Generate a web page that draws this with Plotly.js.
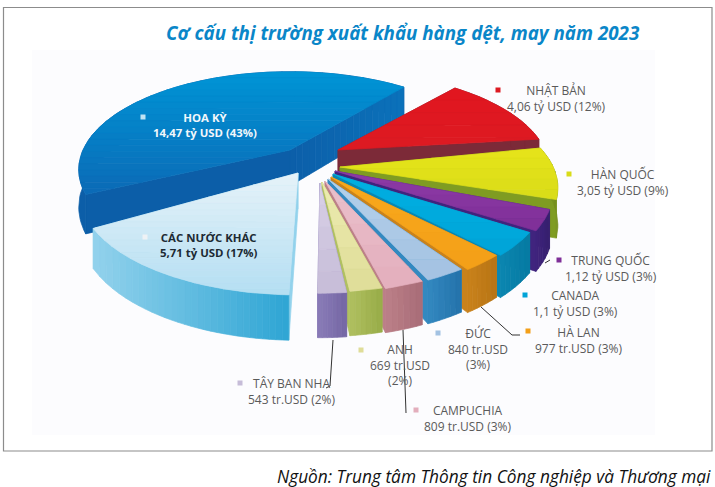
<!DOCTYPE html>
<html><head><meta charset="utf-8">
<script src="https://cdn.plot.ly/plotly-3.0.1.min.js"></script>
<style>html,body{margin:0;padding:0;background:#fff}</style></head>
<body><div id="chart" style="width:715px;height:487px"></div>
<script>
// ---- data (clockwise from the top right)
const names = ["NHẬT BẢN","HÀN QUỐC","TRUNG QUỐC","CANADA","HÀ LAN","ĐỨC","CAMPUCHIA","ANH","TÂY BAN NHA","CÁC NƯỚC KHÁC","HOA KỲ"];
const values = [4.06,3.05,1.12,1.1,0.977,0.84,0.809,0.669,0.543,5.71,14.47];
const valueText = ["4,06 tỷ USD (12%)","3,05 tỷ USD (9%)","1,12 tỷ USD (3%)","1,1 tỷ USD (3%)","977 tr.USD (3%)","840 tr.USD<br>(3%)","809 tr.USD (3%)","669 tr.USD<br>(2%)","543 tr.USD (2%)","5,71 tỷ USD (17%)","14,47 tỷ USD (43%)"];
const titleText = "Cơ cấu thị trường xuất khẩu hàng dệt, may năm 2023";
const sourceText = "Nguồn: Trung tâm Thông tin Công nghiệp và Thương mại";

// ---- styles, one entry per slice
const topA  = ["#e2161f","#e6e41a","#8d3aa6","#00b0e2","#f9a91c","#b4d0ea","#eac0cc","#ecebb0","#d8d0e6","#e6f2f9","#0095d6"];
const topB  = ["#dc1a22","#d9dc18","#7f2f98","#00a4d8","#f39f18","#a3c2e2","#e3aebc","#dfdd98","#c6bcd8","#b4def2","#0b6ab6"];
const wallA = ["#7c2a38","#7f9c22","#40247e","#0b86b0","#c9821c","#3389c0","#bc8088","#b0c060","#8a7cb8","#93d2ec","#0c5ea8"];
const wallB = ["#7c2a38","#76901e","#36206e","#067aa2","#b87414","#2472aa","#a86c78","#98ac48","#7467a4","#2ea5d4","#0a4f98"];
const cutEnd = ["#7c2a38","#7f9c22","#40247e","#0b86b0","#c9821c","#2f7fb8","#bc8088","#b0c060","#8a7cb8","#93d2ec","#0b72ba"];
const apexX = [338,340,335,333,331,328,325,322,320,298,290];
const apexY = [150,167,171,174,177,179,181,182,183,173,150];
const nudgeA = [0,-6.2,-5.8,-6.2,-5.1,-5.7,-4.7,-4.1,-3.2,-0.8,0];   // view adjustment of each slice's edges, degrees
const nudgeB = [0,-7.8,-5,-3.2,-4.5,-3.9,-2.8,-2.3,-1,-4,0];
const scaleR = [1,1.03,1.03,1.01,0.99,0.97,0.96,0.95,0.95,1.03,1];

const labelX = [556,623,611,575,579,478,468,400,292,209,205];
const labelY = [98,182,268,303,340,349,418,365,391,245,125];
const keyX = [498,569,559,525,528,438,416,361,240,145,143];
const keyY = [90,174,260,295,331,333,410,350,383,237,117];

// ---- projection of a tilted disc with perspective
const R=207, Rv=94, K=0.2, D=36, START=40, GAP=0.6;
function pt(s,deg,r,z){
  const a=deg*Math.PI/180, X=r*Math.sin(a)*scaleR[s], Y=r*Math.cos(a)*scaleR[s], w=1+K*Y;
  return [apexX[s]+R*X/w, apexY[s]-Rv*Y/w+D*z/w];
}
function hex(c){return [1,3,5].map(i=>parseInt(c.substr(i,2),16));}
function mix(a,b,t){const p=hex(a),q=hex(b);return "rgb("+p.map((v,i)=>Math.round(v+(q[i]-v)*t)).join(",")+")";}
function clip(poly,ax,lo,hi){
  function cut(P,inside,val){const o=[];for(let i=0;i<P.length;i++){const A=P[i],B=P[(i+1)%P.length],ia=inside(A),ib=inside(B);
    if(ia)o.push(A);
    if(ia!==ib){const t=(val-A[ax])/(B[ax]-A[ax]);o.push([A[0]+(B[0]-A[0])*t,A[1]+(B[1]-A[1])*t]);}}return o;}
  return cut(cut(poly,p=>p[ax]>=lo,lo),p=>p[ax]<=hi,hi);
}
const traces=[];
function add(poly,color){
  if(poly.length<3)return;
  traces.push({type:"scatter",mode:"lines",x:poly.map(p=>p[0]).concat(poly[0][0]),y:poly.map(p=>p[1]).concat(poly[0][1]),
    fill:"toself",fillcolor:color,line:{color:color,width:0.7},hoverinfo:"skip",showlegend:false});
}
function face(poly,a,b,ax,n){
  const vs=poly.map(p=>p[ax]),lo=Math.min(...vs),hi=Math.max(...vs);
  for(let i=0;i<n;i++){const l=lo+(hi-lo)*i/n,h=lo+(hi-lo)*(i+1)/n;add(clip(poly,ax,l,h),mix(a,b,(i+.5)/n));}
}
const total=values.reduce((a,b)=>a+b,0);
let cum=START;
const spans=values.map((v,i)=>{const a=cum;cum+=v/total*360;return [a+GAP+nudgeA[i],a+v/total*360-GAP+nudgeB[i]];});
// paint from back to front
const order=[10,0,1,2,3,4,5,6,7,8,9];
order.forEach(s=>{
  const [a,b]=spans[s], n=Math.ceil((b-a)/2)+1, arc=[];
  for(let i=0;i<=n;i++)arc.push(a+(b-a)*i/n);
  const quad=t=>[pt(s,t,0,0),pt(s,t,1,0),pt(s,t,1,1),pt(s,t,0,1)];
  const wall=arc.map(t=>pt(s,t,1,0)).concat(arc.slice().reverse().map(t=>pt(s,t,1,1)));
  if(s===10){
    add(quad(a),wallA[s]);
    face(wall,wallA[s],wallB[s],0,24);
    face(quad(b),wallA[s],cutEnd[s],0,18);
  }else{
    add(quad(a),wallA[s]);
    add(quad(b),wallA[s]);
    face(wall,wallA[s],wallB[s],0,s===9?30:6);
  }
  const top=[pt(s,a,0,0)].concat(arc.map(t=>pt(s,t,1,0)));
  face(top,topA[s],topB[s],1,s>=9?20:5);
});

// ---- text
const ann=[];
names.forEach((nm,i)=>{
  const inside=i>=9;
  ann.push({x:labelX[i],y:labelY[i],xref:"x",yref:"y",showarrow:false,align:"center",
    text:(inside?"<b>"+nm+"<br>"+valueText[i]+"</b>":nm+"<br>"+valueText[i]),
    font:{family:"Open Sans",size:inside?11.4:12,color:i===10?"#f2f7fb":(i===9?"#1c2a33":"#5a5a5a")}});
});
ann.push({x:403,y:33,xref:"x",yref:"y",showarrow:false,text:"<b><i>"+titleText+"</i></b>",font:{family:"Open Sans",size:18.8,color:"#0a86c8"}});
ann.push({x:494,y:476,xref:"x",yref:"y",showarrow:false,text:"<i>"+sourceText+"</i>",font:{family:"Open Sans",size:17.3,color:"#111"}});

// ---- frame, key squares and leader lines
const shapes=[
 {type:"rect",xref:"x",yref:"y",x0:3.5,y0:7.5,x1:712,y1:451,line:{color:"#8c8c8c",width:1.2},fillcolor:"#ffffff",layer:"below"},
 {type:"rect",xref:"x",yref:"y",x0:32,y0:50,x1:655,y1:435,line:{width:0},fillcolor:"#fcfcfe",layer:"below"}
];
keyX.forEach((x,i)=>shapes.push({type:"rect",xref:"x",yref:"y",x0:x-2.5,x1:x+2.5,y0:keyY[i]-2.5,y1:keyY[i]+2.5,line:{width:0},fillcolor:i===10?"#bfe3f4":(i>=9?"#eef2f5":topB[i])}));
[["M333,340 L330,386 L326,388"],["M403,330 L406,413"],["M481,307 L512,335 L520,335"],["M545,263 L550,260"]].forEach(p=>
  shapes.push({type:"path",xref:"x",yref:"y",path:p[0],line:{color:"#333",width:1}}));

Plotly.newPlot("chart",traces,{
  width:715,height:487,margin:{l:0,r:0,t:0,b:0},paper_bgcolor:"#fff",plot_bgcolor:"#fff",showlegend:false,
  xaxis:{range:[0,715],visible:false,fixedrange:true},
  yaxis:{range:[487,0],visible:false,fixedrange:true},
  annotations:ann,shapes:shapes
},{displayModeBar:false,staticPlot:true});
</script></body></html>
